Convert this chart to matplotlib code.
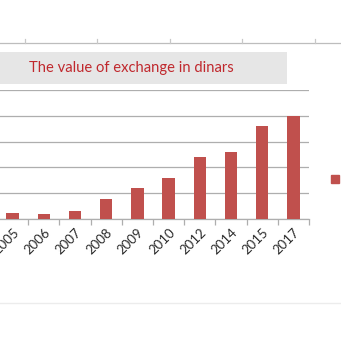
import matplotlib
matplotlib.use("Agg")
import matplotlib.pyplot as plt
from matplotlib.patches import Rectangle, Patch
from matplotlib.lines import Line2D

# data (units = one gridline step)
years = ["2005", "2006", "2007", "2008", "2009", "2010", "2012", "2014", "2015", "2017"]
values = [0.22, 0.18, 0.32, 0.79, 1.19, 1.59, 2.40, 2.61, 3.59, 4.00]
title = "The value of exchange in dinars"

bar_color = "#c0504d"
grid_color = "#aeaeae"
W = H = 341

plt.rcParams["font.family"] = ["Lato", "DejaVu Sans"]
fig = plt.figure(figsize=(3.41, 3.41), dpi=100)
fig.patch.set_facecolor("white")

# main plot area, partly cut off on the left like the screenshot
ax = fig.add_axes([-3 / W, (H - 219) / H, 312 / W, 129 / H])
x = list(range(len(years)))
ax.bar(x, values, width=0.4, color=bar_color, zorder=3)
ax.set_xlim(-0.5, len(years) - 0.5)
ax.set_ylim(0, 5)
ax.set_yticks(range(6))
ax.yaxis.grid(True, color=grid_color, linewidth=0.9)
ax.set_axisbelow(True)
for s in ["left", "right", "top"]:
    ax.spines[s].set_visible(False)
ax.spines["bottom"].set_color(grid_color)
ax.spines["bottom"].set_linewidth(0.9)
ax.tick_params(axis="y", left=False, labelleft=False)
ax.set_xticks(x)
ax.set_xticklabels(years, rotation=45, ha="right", rotation_mode="anchor",
                   fontsize=9.5, color="#2a2a2a")
ax.tick_params(axis="x", which="major", length=0, pad=5)
ax.set_xticks([i + 0.5 for i in range(-1, len(years))], minor=True)
ax.tick_params(axis="x", which="minor", length=4, color=grid_color, width=0.9)

# title box
fig.patches.append(Rectangle((-0.01, (H - 84) / H), 290 / W, 32 / H,
                             transform=fig.transFigure, facecolor="#e6e6e6",
                             edgecolor="none", zorder=1))
fig.text(29 / W, (H - 68) / H, title, color="#c0282d", fontsize=10.6,
         va="center", ha="left", zorder=2)

# edge of the chart above, with its little tick marks
fig.add_artist(Line2D([0, 1], [(H - 43) / H] * 2, color="#bdbdbd", linewidth=0.9))
for tx in [25, 97, 170, 242, 315]:
    fig.add_artist(Line2D([tx / W] * 2, [(H - 43) / H, (H - 39) / H],
                          color="#c8c8c8", linewidth=0.9))
# faint line near the bottom
fig.add_artist(Line2D([0, 1], [(H - 303) / H] * 2, color="#ececec", linewidth=1))

# legend, mostly off the right edge
fig.legend([Patch(color=bar_color)], [title], loc="center left",
           bbox_to_anchor=(320 / W, (H - 179) / H), frameon=False,
           handlelength=0.6, handleheight=0.6, handletextpad=0.3, fontsize=9,
           labelcolor="#d0d0d0")

fig.savefig("out.png", dpi=100)
